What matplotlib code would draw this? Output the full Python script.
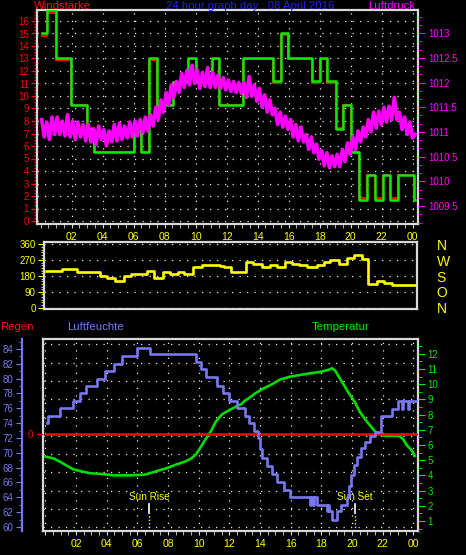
import numpy as np
import matplotlib
matplotlib.use('Agg')
from matplotlib import pyplot as plt
from matplotlib.ticker import MultipleLocator

plt.rcParams['font.family'] = ['Liberation Sans', 'DejaVu Sans']

# --- wind speed (top panel), step values
wind_t = [0.06, 0.43, 0.99, 1.95, 3.0, 3.46, 6.0, 6.5, 7.0, 7.48, 8.56, 9.48, 10.02, 11.03, 11.52, 13.03,
          15.0, 15.48, 15.97, 17.48, 18.02, 18.5, 19.03, 19.52, 20.02, 20.54, 21.07, 21.57, 22.06, 22.54,
          23.03, 24.08, 24.15]
wind_gust = [15.0, 16.9, 13.0, 9.3, 7.4, 5.56, 7.4, 5.56, 13.0, 9.3, 11.1, 13.0, 11.1, 13.0, 9.3, 13.0,
             11.2, 15.0, 13.0, 11.2, 13.0, 11.2, 7.4, 9.3, 5.56, 1.7, 3.65, 1.7, 3.65, 1.7,
             3.65, 1.7, 1.7]
wind_avg = [14.8, 16.67, 12.9, 9.26, 7.41, 5.56, 7.41, 5.56, 12.9, 9.26, 11.11, 12.96, 11.11, 12.96, 9.26, 12.96,
            11.0, 14.9, 12.96, 11.0, 12.96, 11.0, 7.41, 9.26, 5.56, 1.85, 3.7, 1.85, 3.7, 1.85,
            3.7, 1.85, 1.85]

# --- air pressure, 10 minute samples
pressure = [
    1011.25, 1010.9, 1011.2, 1010.85, 1011.3, 1010.95,
    1011.3, 1010.95, 1011.22, 1010.92, 1011.35, 1010.9,
    1011.22, 1010.85, 1011.2, 1010.9, 1011.15, 1010.82,
    1011.15, 1010.8, 1011.05, 1010.75, 1011.12, 1010.85,
    1011.05, 1010.72, 1011.02, 1010.8, 1011.15, 1010.82,
    1011.18, 1010.85, 1011.12, 1010.88, 1011.2, 1010.9,
    1011.22, 1010.92, 1011.25, 1010.98, 1011.3, 1011.02,
    1011.35, 1011.12, 1011.5, 1011.25, 1011.65, 1011.4,
    1011.8, 1011.55, 1011.95, 1011.7, 1012.02, 1011.8,
    1012.18, 1011.9, 1012.25, 1011.95, 1012.35, 1011.98,
    1012.25, 1011.88, 1012.2, 1011.92, 1012.3, 1011.9,
    1012.2, 1011.9, 1012.15, 1011.88, 1012.1, 1011.85,
    1012.05, 1011.82, 1012.02, 1011.8, 1012.0, 1011.78,
    1012.0, 1011.7, 1012.12, 1011.72, 1011.95, 1011.62,
    1011.88, 1011.5, 1011.75, 1011.4, 1011.65, 1011.35,
    1011.48, 1011.15, 1011.4, 1011.1, 1011.32, 1011.05,
    1011.25, 1010.9, 1011.15, 1010.82, 1011.1, 1010.8,
    1010.95, 1010.65, 1010.9, 1010.58, 1010.75, 1010.45,
    1010.62, 1010.32, 1010.58, 1010.28, 1010.52, 1010.3,
    1010.55, 1010.3, 1010.65, 1010.4, 1010.78, 1010.55,
    1010.9, 1010.65, 1011.02, 1010.8, 1011.1, 1010.9,
    1011.25, 1011.0, 1011.4, 1011.08, 1011.42, 1011.15,
    1011.5, 1011.2, 1011.52, 1011.25, 1011.7, 1011.25,
    1011.4, 1011.05, 1011.3, 1010.95, 1011.2, 1010.88,
    1010.95]
pres_t = np.linspace(0.06, 24.15, len(pressure))

# --- wind direction (middle panel)
wdir_t = [0.34, 1.38, 2.32, 3.85, 4.28, 4.8, 5.37, 5.85, 6.86, 7.3, 7.88, 8.34, 8.88, 9.25, 9.8, 10.4,
          11.6, 11.83, 12.27, 13.23, 13.72, 14.3, 14.82, 15.23, 15.78, 16.23, 16.65, 17.18, 17.83, 18.26,
          18.69, 19.22, 19.74, 20.22, 20.73, 21.14, 21.7, 22.13, 22.68, 24.15]
wdir = [210, 222, 205, 182, 170, 153, 180, 191, 210, 170, 203, 193, 205, 191, 231, 244,
        237, 231, 205, 261, 248, 231, 243, 231, 261, 248, 243, 231, 243, 261,
        273, 248, 282, 299, 275, 133, 153, 142, 129, 129]

# --- humidity (bottom panel, steps)
hum_t = [0.09, 0.2, 0.95, 1.82, 2.26, 2.65, 3.35, 3.9, 4.45, 5.0, 6.0, 6.85, 9.8, 10.15, 10.5, 11.2,
         11.6, 12.0, 12.5, 13.0, 13.3, 13.6, 13.85, 14.0, 14.15, 14.45, 14.8, 15.1, 15.55, 15.95,
         17.26, 17.32, 17.46, 17.52, 17.74, 18.35, 18.42, 18.5, 18.72, 19.0, 19.26, 19.65, 19.8,
         19.95, 20.15, 20.35, 20.6, 20.85, 21.15, 21.5, 21.88, 22.6, 23.0, 23.28, 23.34, 23.64,
         23.7, 24.2]
humidity = [74, 75, 76, 77, 78, 79, 80, 81, 82, 83, 84.1, 83.3, 82.3, 81.3, 80.2, 79.0,
            78.0, 77.0, 76.0, 75.0, 74.0, 73.0, 72.0, 70.5, 69.3, 68.2, 67.2, 66.1, 65.0, 64.1,
            63.0, 64.1, 63.0, 64.1, 63.0, 62.1, 63.0, 62.1, 61.0, 62.1, 63.0, 64.1, 65.5,
            67.0, 68.3, 69.5, 70.6, 71.5, 72.2, 72.8, 75.0, 75.9, 77.0, 75.9, 77.0, 75.9,
            77.0, 77.0]

# --- temperature
temp_t = [0.02, 0.52, 0.95, 1.39, 1.82, 2.47, 2.91, 3.56, 4.5, 5.5, 6.5, 7.0, 7.5, 8.0, 8.5, 9.1,
          9.5, 9.8, 10.1, 10.4, 10.8, 11.1, 11.5, 12.0, 12.4, 12.8, 13.0, 13.3, 13.7, 14.2, 14.8,
          15.3, 16.0, 16.6, 17.2, 17.9, 18.5, 18.7, 18.9, 19.2, 19.5, 19.8, 20.2, 20.5, 21.0, 21.5,
          21.9, 22.2, 22.6, 23.0, 23.13, 23.35, 23.56, 23.78, 23.95, 24.1]
temperature = [5.23, 5.12, 4.9, 4.64, 4.4, 4.24, 4.14, 4.1, 4.0, 4.0, 4.05, 4.2, 4.35, 4.5, 4.7, 4.9,
               5.1, 5.35, 5.8, 6.3, 6.9, 7.5, 8.0, 8.3, 8.5, 8.7, 8.9, 9.1, 9.4, 9.7, 10.0,
               10.3, 10.5, 10.6, 10.7, 10.8, 10.95, 11.05, 10.9, 10.4, 9.9, 9.4, 8.8, 8.2, 7.5, 6.9,
               6.65, 6.6, 6.6, 6.6, 6.55, 6.37, 6.0, 5.78, 5.56, 5.28]

rain_t = [0.02, 24.2]
rain = [0, 0]

sunrise = 6.78
sunset = 20.22

hour_ticks = list(range(2, 25, 2))
hour_labels = ['%02d' % (h % 24) for h in hour_ticks]

YEL = '#ffff00'
FRAME = '#d8d8d8'
GRID = dict(color='#e8e8e8', linestyle=(0, (1, 5)), linewidth=0.9)
W, H = 466, 555
TXT = 8.2

fig = plt.figure(figsize=(4.66, 5.55), dpi=100, facecolor='black')


def frame(ax):
    ax.set_facecolor('black')
    for s in ax.spines.values():
        s.set_color(FRAME)
        s.set_linewidth(1.6)


def hide_spines(ax):
    for s in ax.spines.values():
        s.set_visible(False)


# ================= top panel =================
ax1 = fig.add_axes([37.3 / W, 1 - 224 / H, 381 / W, 214 / H])
frame(ax1)
ax1.set_xlim(-0.22, 24.36)
ax1.set_ylim(-0.24, 16.88)
ax1.set_yticks(range(17))
ax1.yaxis.set_minor_locator(MultipleLocator(0.25))
ax1.tick_params(axis='y', which='both', color='red', labelcolor='red', labelsize=7, width=1, pad=2)
ax1.tick_params(axis='y', which='major', length=4)
ax1.tick_params(axis='y', which='minor', length=2)
ax1.set_xticks(hour_ticks, hour_labels)
ax1.xaxis.set_minor_locator(MultipleLocator(0.5))
ax1.tick_params(axis='x', which='both', color=FRAME, labelcolor=YEL, labelsize=7.5, length=3, pad=3)
ax1.grid(True, which='major', **GRID)
ax1.step(wind_t, wind_avg, where='post', color='#ff0000', lw=1.6, zorder=3)
ax1.step(wind_t, wind_gust, where='post', color='#00ee00', lw=1.8, zorder=4)

ax1p = ax1.twinx()
hide_spines(ax1p)
ax1p.set_ylim(1009.141, 1013.465)
p_ticks = [1009.5, 1010, 1010.5, 1011, 1011.5, 1012, 1012.5, 1013]
ax1p.set_yticks(p_ticks, ['%g' % p for p in p_ticks])
ax1p.yaxis.set_minor_locator(MultipleLocator(0.5 / 3))
ax1p.tick_params(axis='y', which='both', color='#ff00ff', labelcolor='#ff00ff', labelsize=7, pad=2)
ax1p.tick_params(axis='y', which='major', length=5)
ax1p.tick_params(axis='y', which='minor', length=3)
ax1p.plot(pres_t, pressure, color='#ff00ff', lw=2.6, zorder=5)

fig.text(34 / W, 1 - 9.3 / H, 'Windstärke', color='#ff1010', fontsize=TXT, va='baseline', ha='left')
fig.text(250 / W, 1 - 9.3 / H, '24 hour graph day : 08 April 2016', color='#2020ee', fontsize=TXT,
         va='baseline', ha='center')
fig.text(415 / W, 1 - 9.3 / H, 'Luftdruck', color='#ff00ff', fontsize=TXT, va='baseline', ha='right')

# ================= middle panel: wind direction =================
ax2 = fig.add_axes([44 / W, 1 - 309 / H, 373 / W, 67 / H])
frame(ax2)
ax2.set_xlim(0.213, 24.28)
ax2.set_ylim(-7.4, 373.3)
ax2.set_xticks([])
ax2.set_yticks([0, 90, 180, 270, 360])
ax2.yaxis.set_minor_locator(MultipleLocator(15))
ax2.tick_params(axis='y', which='both', color=YEL, labelcolor=YEL, labelsize=7, pad=2)
ax2.tick_params(axis='y', which='major', length=4)
ax2.tick_params(axis='y', which='minor', length=2)
ax2.grid(True, axis='y', **GRID)
ax2.step(wdir_t, wdir, where='post', color='#ffff00', lw=1.9)

ax2r = ax2.twinx()
hide_spines(ax2r)
ax2r.set_ylim(-7.4, 373.3)
ax2r.set_yticks([360, 270, 180, 90, 0], ['N', 'W', 'S', 'O', 'N'])
ax2r.tick_params(axis='y', length=0, labelcolor=YEL, labelsize=10, pad=14)

# ================= bottom panel =================
ax3 = fig.add_axes([43 / W, 1 - 530.7 / H, 375 / W, 191.4 / H])
frame(ax3)
ax3.set_xlim(-0.155, 24.31)
ax3.set_ylim(-0.186, 10.27)
ax3.set_yticks(range(11))
ax3.tick_params(axis='y', length=0, labelleft=False)
ax3.xaxis.set_minor_locator(MultipleLocator(0.5))
ax3.tick_params(axis='x', which='both', color=FRAME, labelcolor=YEL, labelsize=7.5, length=3, pad=3)
ax3.set_xticks([0] + hour_ticks, [''] + hour_labels)
ax3.grid(True, which='major', **GRID)

ax_t = ax3.twinx()
hide_spines(ax_t)
ax_t.set_ylim(0.36, 12.95)
ax_t.set_yticks(range(1, 13))
ax_t.yaxis.set_minor_locator(MultipleLocator(0.5))
ax_t.tick_params(axis='y', which='both', color='#00ee00', labelcolor='#00ee00', labelsize=7, pad=2)
ax_t.tick_params(axis='y', which='major', length=5)
ax_t.tick_params(axis='y', which='minor', length=3)
ax_t.plot(temp_t, temperature, color='#00dd00', lw=1.9)

ax_r = ax3.twinx()
hide_spines(ax_r)
ax_r.yaxis.tick_left()
ax_r.set_ylim(-1.01, 0.99)
ax_r.set_yticks([0])
ax_r.tick_params(axis='y', color='red', labelcolor='red', labelsize=7, length=4, pad=3)
ax_r.plot(rain_t, rain, color='#ff0000', lw=1.8)

ax_h = ax3.twinx()
hide_spines(ax_h)
ax_h.yaxis.tick_left()
ax_h.spines['left'].set_visible(True)
ax_h.spines['left'].set_position(('outward', 15.3))
ax_h.spines['left'].set_color('#7878f0')
ax_h.spines['left'].set_linewidth(1.6)
ax_h.set_ylim(59.5, 85.3)
ax_h.set_yticks(range(60, 85, 2))
ax_h.yaxis.set_minor_locator(MultipleLocator(1))
ax_h.tick_params(axis='y', which='both', color='#7878f0', labelcolor='#7878f0', labelsize=7, pad=2)
ax_h.tick_params(axis='y', which='major', length=4)
ax_h.tick_params(axis='y', which='minor', length=2)
ax_h.step(hum_t, humidity, where='post', color='#7878f0', lw=1.9)

for t, name in [(sunrise, 'Sun Rise'), (sunset, 'Sun Set')]:
    ax3.axvline(t, ymin=0.094, ymax=0.14, color='white', lw=1.2)
    ax3.axvline(t, ymin=0.0, ymax=0.094, color=YEL, lw=1, linestyle=(0, (1, 1.5)))
    ax3.text(t, 0.176, name, transform=ax3.get_xaxis_transform(), color=YEL, fontsize=7.2,
             ha='center', va='center')

fig.text(0 / W, 1 - 327 / H, 'Regen', color='#ff1010', fontsize=TXT, va='center', ha='left')
fig.text(67 / W, 1 - 327 / H, 'Luftfeuchte', color='#7878f0', fontsize=TXT, va='center', ha='left')
fig.text(312 / W, 1 - 327 / H, 'Temperatur', color='#00ee00', fontsize=TXT, va='center', ha='left')

fig.savefig('out.png', dpi=100, facecolor='black')
